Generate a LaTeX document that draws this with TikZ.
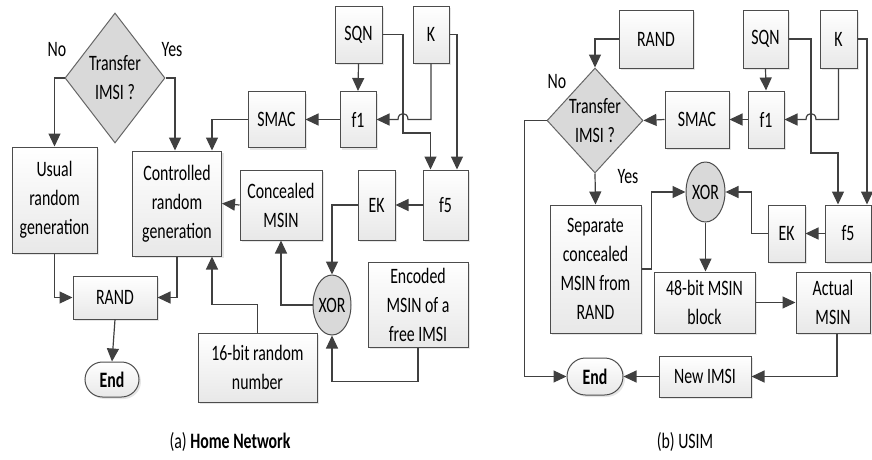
\documentclass[tikz,border=0pt]{standalone}
\usepackage{fontspec}
\setmainfont{Carlito}[FakeStretch=0.72]
\usepackage{tikz}
\usetikzlibrary{shapes.geometric,shapes.misc,arrows.meta,shadows}
\newcommand{\boxfont}{\fontsize{22}{29}\selectfont}

\begin{document}
\begin{tikzpicture}[x=1pt, y=-1pt]
    \tikzset{
        block/.style={
            draw=black!70, line width=1pt,
            top color=white, bottom color=black!9,
            drop shadow={shadow xshift=2pt, shadow yshift=-2pt, opacity=0.2},
            inner sep=0pt, align=center, font=\boxfont
        },
        decide/.style={
            diamond, draw=black!60, line width=1pt, fill=black!15,
            inner sep=0pt, align=center, font=\boxfont
        },
        xorop/.style={
            ellipse, draw=black!70, line width=1pt, fill=black!15,
            inner sep=0pt, font=\boxfont
        },
        stop/.style={
            rounded rectangle, draw=black!70, line width=1pt,
            top color=white, bottom color=black!9,
            drop shadow={shadow xshift=2pt, shadow yshift=-2pt, opacity=0.2},
            inner sep=0pt, font=\boxfont\bfseries
        },
        conn/.style={
            draw=black!75, line width=1.2pt,
            -{Triangle[length=13pt, width=12pt]}
        },
    }
    \useasboundingbox (0,0) rectangle (872,459);

    % ==== (a) Home network ====
    \node[decide, minimum width=100pt, minimum height=130pt] (askA) at (115,78) {Transfer\\IMSI ?};
    \node[font=\boxfont] (noA) at (57,50) {No};
    \node[font=\boxfont] (yesA) at (172,50) {Yes};

    \node[block, minimum width=85pt, minimum height=106pt] (usual) at (54.5,200) {Usual\\random\\generation};
    \node[block, minimum width=89pt, minimum height=105pt] (ctrl) at (177,203.5) {Controlled\\random\\generation};
    \node[block, minimum width=57pt, minimum height=56pt] (smacA) at (276.5,119.5) {SMAC};
    \node[block, minimum width=36pt, minimum height=56pt] (fOneA) at (358,119.5) {f1};
    \node[block, minimum width=47pt, minimum height=57pt] (sqnA) at (358.5,34.5) {SQN};
    \node[block, minimum width=36pt, minimum height=57pt] (kA) at (431,34.5) {K};
    \node[block, minimum width=45pt, minimum height=70pt] (fFiveA) at (445.5,205) {f5};
    \node[block, minimum width=37pt, minimum height=70pt] (ekA) at (376.5,205) {EK};
    \node[block, minimum width=82pt, minimum height=70pt] (concA) at (281,205) {Concealed\\MSIN};
    \node[xorop, minimum width=37pt, minimum height=60pt] (xorA) at (332,305) {XOR};
    \node[block, minimum width=100pt, minimum height=85pt] (encA) at (418,304.5) {Encoded\\MSIN of a\\free IMSI};
    \node[block, minimum width=119pt, minimum height=69pt] (rndA) at (257.5,367.5) {16-bit random\\number};
    \node[block, minimum width=84pt, minimum height=43pt] (randA) at (115,297.5) {RAND};
    \node[stop, minimum width=54pt, minimum height=35pt] (endA) at (112,379.5) {End};

    \coordinate (jogA) at (403,133);
    \coordinate (hopA) at (fOneA.east -| jogA);

    \draw[conn] (askA.west) -| (usual.north);
    \draw[conn] (askA.east) -| ([xshift=-2pt]ctrl.north);
    \draw[conn] (smacA.west) -| ([xshift=35pt]ctrl.north);
    \draw[conn] (fOneA.west) -- (smacA.east);
    \draw[conn] (sqnA.south) -- (fOneA.north);
    \draw[conn] (sqnA.east) -| (jogA) -| ([xshift=-15pt]fFiveA.north);
    \draw[conn] (kA.south) |- ([xshift=5pt]hopA)
        .. controls ([xshift=5pt,yshift=8pt]hopA) and ([xshift=-5pt,yshift=8pt]hopA) .. ([xshift=-5pt]hopA)
        -- (fOneA.east);
    \draw[conn] (kA.east) -| ([xshift=11.5pt]fFiveA.north);
    \draw[conn] (fFiveA.west) -- (ekA.east);
    \draw[conn] (ekA.west) -| (xorA.north);
    \draw[conn] (xorA.west) -| (concA.south);
    \draw[conn] (concA.west) -- (ctrl.east);
    \draw[conn] (encA.south) -- ++(0,34) -| (xorA.south);
    \draw[conn] (rndA.north) -- ++(0,-28) -| ([xshift=35pt]ctrl.south);
    \draw[conn] (usual.south) |- (randA.west);
    \draw[conn] (ctrl.south) |- (randA.east);
    \draw[conn] (randA.south) -- (endA.north);

    \node[font=\boxfont] (capA) at (230,442) {(a) \textbf{Home Network}};

    % ==== (b) USIM ====
    \node[block, minimum width=74pt, minimum height=58pt] (randB) at (656,39) {RAND};
    \node[decide, minimum width=93pt, minimum height=105pt] (askB) at (595,120.5) {Transfer\\IMSI ?};
    \node[font=\boxfont] (noB) at (557,82) {No};
    \node[font=\boxfont] (yesB) at (628,177) {Yes};

    \node[block, minimum width=64pt, minimum height=57pt] (smacB) at (697,119.5) {SMAC};
    \node[block, minimum width=36pt, minimum height=57pt] (fOneB) at (766,119.5) {f1};
    \node[block, minimum width=45pt, minimum height=58pt] (sqnB) at (765.5,39) {SQN};
    \node[block, minimum width=37pt, minimum height=58pt] (kB) at (838.5,39) {K};
    \node[block, minimum width=46pt, minimum height=57pt] (fFiveB) at (848,233.5) {f5};
    \node[block, minimum width=37pt, minimum height=57pt] (ekB) at (786.5,233.5) {EK};
    \node[xorop, minimum width=39pt, minimum height=60pt] (xorB) at (705.5,192) {XOR};
    \node[block, minimum width=91pt, minimum height=128pt] (sepB) at (595.5,269) {Separate\\concealed\\MSIN from\\RAND};
    \node[block, minimum width=101pt, minimum height=61pt] (blkB) at (704.5,302.5) {48-bit MSIN\\block};
    \node[block, minimum width=74pt, minimum height=61pt] (actB) at (833,302.5) {Actual\\MSIN};
    \node[block, minimum width=92pt, minimum height=41pt] (newB) at (705,376.5) {New IMSI};
    \node[stop, minimum width=56pt, minimum height=37pt] (endB) at (595,376.5) {End};

    \coordinate (jogB) at (811,153);
    \coordinate (hopB) at (fOneB.east -| jogB);

    \draw[conn] (randB.west) -| (askB.north);
    \draw[conn] (askB.west) -- ++(-22,0) |- (endB.west);
    \draw[conn] (smacB.west) -- (askB.east);
    \draw[conn] (fOneB.west) -- (smacB.east);
    \draw[conn] (sqnB.south) -- (fOneB.north);
    \draw[conn] (sqnB.east) -| (jogB) -| ([xshift=-10pt]fFiveB.north);
    \draw[conn] (kB.south) |- ([xshift=5pt]hopB)
        .. controls ([xshift=5pt,yshift=8pt]hopB) and ([xshift=-5pt,yshift=8pt]hopB) .. ([xshift=-5pt]hopB)
        -- (fOneB.east);
    \draw[conn] (kB.east) -| ([xshift=19pt]fFiveB.north);
    \draw[conn] (fFiveB.west) -- (ekB.east);
    \draw[conn] (ekB.west) -- ++(-16,0) |- (xorB.east);
    \draw[conn] (sepB.east) -- ++(10,0) |- (xorB.west);
    \draw[conn] (askB.south) -- (sepB.north);
    \draw[conn] (xorB.south) -- ([xshift=1pt]blkB.north);
    \draw[conn] (blkB.east) -- (actB.west);
    \draw[conn] ([xshift=4pt]actB.south) |- (newB.east);
    \draw[conn] (newB.west) -- (endB.east);

    \node[font=\boxfont] (capB) at (685,442) {(b) USIM};
\end{tikzpicture}
\end{document}
